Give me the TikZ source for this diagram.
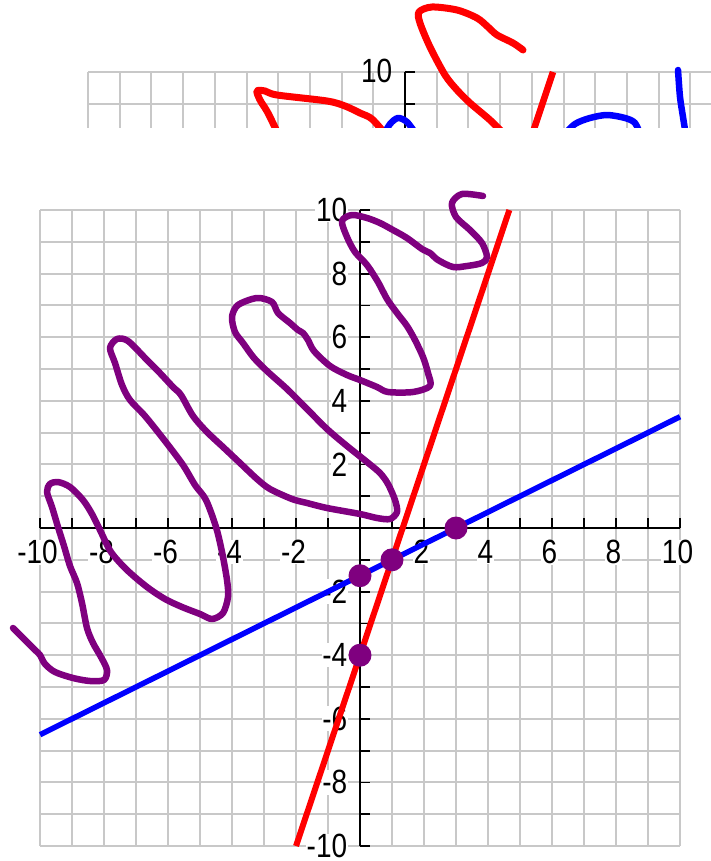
\documentclass[tikz,border=0pt]{standalone}
\usepackage{fontspec}
\setmainfont{Liberation Sans}
\definecolor{pur}{HTML}{7F007F}
\definecolor{gridgray}{HTML}{C8C8C8}
\newcommand{\lblt}[1]{\scalebox{1}[1.2]{#1}}
\begin{document}
\begin{tikzpicture}[x=1pt,y=-1pt,
  gridline/.style={draw=gridgray, line width=2pt},
  axisline/.style={draw=black, line width=1.8pt},
  ticklbl/.style={font=\fontsize{28}{28}\selectfont, inner sep=0.6pt, fill=white},
  scribble/.style={line width=6.5pt, line cap=round, line join=round},
  redline/.style={draw=red, line width=6pt},
  blueline/.style={draw=blue, line width=5.5pt},
  dotnode/.style={circle, fill=pur, inner sep=0pt, minimum size=23pt},
]
\useasboundingbox (0,0) rectangle (711,861);
% ---------- top (cut-off) graph ----------
\begin{scope}
  \clip (0,0) rectangle (711,128);
  \foreach \i in {0,...,19} { \draw[gridline] ({88+31.7*\i},72) -- ({88+31.7*\i},140); }
  \foreach \j in {0,1,2} { \draw[gridline] (88,{72+31.7*\j}) -- (711,{72+31.7*\j}); }
  \draw[axisline] (405,72) -- (405,140);
  \draw[axisline] (405,72) -- (415,72);
  \draw[axisline] (405,103.7) -- (415,103.7);
  \node[ticklbl, fill=none, anchor=east] (tl10) at (393,71) {\lblt{10}};
  \draw[redline, line width=6.5pt] (553,72) -- (532,135);
  \draw[scribble, red, line width=7pt] plot[smooth, tension=0.5] coordinates {
    (523,50) (513,43) (497,35) (488,27) (477,18) (457,10) (432,7) (419,12) (420,23)
    (430,47) (445,75) (457,90) (470,103) (490,120) (505,135)};
  \draw[scribble, red, line width=7pt] plot[smooth, tension=0.5] coordinates {
    (280,138) (268,113) (260,100) (257,91) (265,91) (277,95) (327,101) (345,106)
    (360,113) (372,119) (387,136)};
  \draw[scribble, blue] plot[smooth, tension=0.5] coordinates {
    (383,136) (390,124) (398,118) (407,122) (416,134)};
  \draw[scribble, blue] plot[smooth, tension=0.5] coordinates {
    (563,136) (575,124) (590,118) (607,115) (625,118) (635,123) (641,136)};
  \draw[scribble, blue] plot[smooth, tension=0.5] coordinates {
    (678,70) (680,97) (683,117) (686,136)};
\end{scope}
% ---------- main graph ----------
\foreach \i in {0,...,20} { \draw[gridline] ({40+32*\i},210) -- ({40+32*\i},846); }
\foreach \j in {0,...,20} { \draw[gridline] (40,{210+31.8*\j}) -- (680,{210+31.8*\j}); }
\draw[axisline] (40,528) -- (680,528);
\draw[axisline] (360,210) -- (360,846);
\foreach \i in {-10,...,10} { \draw[axisline] ({360+32*(\i)},528) -- ({360+32*(\i)},518); }
\foreach \j in {-10,...,10} { \draw[axisline] (360,{528-31.8*(\j)}) -- (370,{528-31.8*(\j)}); }
\foreach \v in {10,8,6,4,2,-2,-4,-6,-8,-10} {
  \node[ticklbl, anchor=east] (yl\v) at (348,{528-31.8*(\v)}) {\lblt{\v}};
}
\foreach \v in {-10,-8,-6,-4,-2,2,4,6,8,10} {
  \node[ticklbl] (xl\v) at ({360+32*(\v)-2.5},552) {\lblt{\v}};
}
\begin{scope}[shift={(360pt,-528pt)}, x=32pt, y=31.8pt]
  \draw[blueline] (-10,-6.5) -- (10,3.5);
  \draw[redline] (-2,-10) -- ({14/3},10);
\end{scope}
\draw[scribble, pur] plot[smooth, tension=0.5] coordinates {
 (13,628) (25,640) (35,650) (40,655) (45,664) (55,672) (73,678) (90,681) (104,680)
 (107,670) (101,657) (93,643) (87,628) (82,603) (77,583) (70,566) (64,546) (58,527)
 (52,507) (47,492) (50,484) (58,482) (70,487) (83,500) (92,514) (100,530) (111,552)
 (127,570) (147,587) (165,599) (182,607) (200,614) (212,619) (223,613) (228,597)
 (227,580) (222,552) (216,527) (206,500) (195,485) (183,465) (165,441) (145,416)
 (130,400) (122,385) (115,363) (110,348) (117,339) (128,341) (147,360) (158,371)
 (173,387) (181,395) (193,416) (207,432) (223,447) (240,463) (257,479) (270,489)
 (292,499) (307,503) (327,508) (360,514) (377,518) (390,519) (397,512) (395,500)
 (388,484) (380,473) (367,462) (347,446) (327,429) (307,409) (287,389) (268,372)
 (254,358) (243,343) (235,332) (232,317) (238,305) (257,298) (272,302) (278,313)
 (290,323) (298,330) (303,333) (308,340) (314,351) (330,366) (347,375) (360,380)
 (377,387) (388,392) (413,392) (430,386) (428,373) (423,357) (415,340) (407,326)
 (397,313) (387,299) (378,282) (367,265) (355,252) (347,237) (342,221) (352,215)
 (367,218) (380,223) (393,230) (407,238) (422,249) (430,253) (438,260) (453,267)
 (467,266) (482,263) (487,257) (482,243) (470,230) (456,217) (452,203) (462,194)
 (483,196)};
\begin{scope}[shift={(360pt,-528pt)}, x=32pt, y=31.8pt]
  \node[dotnode] (d1) at (0,-1.5) {};
  \node[dotnode] (d2) at (1,-1) {};
  \node[dotnode] (d3) at (3,0) {};
  \node[dotnode] (d4) at (0,-4) {};
\end{scope}
\end{tikzpicture}
\end{document}
